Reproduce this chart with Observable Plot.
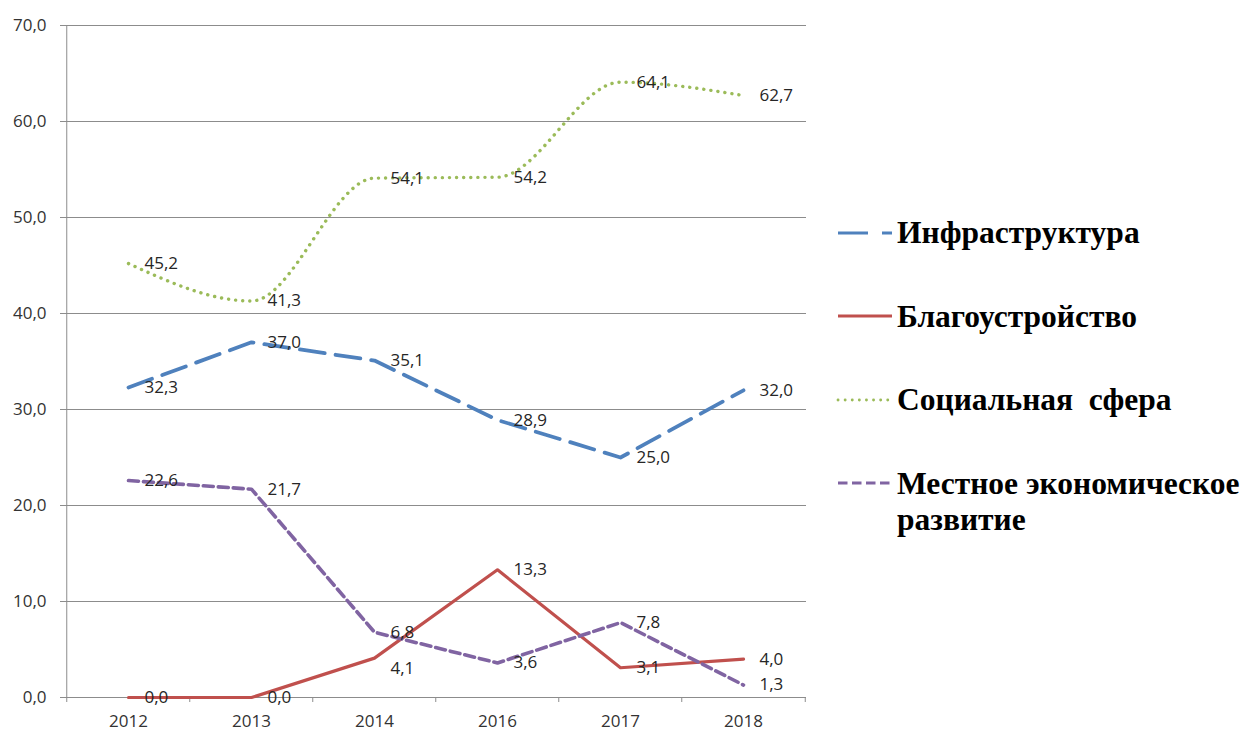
<!DOCTYPE html>
<html>
<head>
<meta charset="utf-8">
<script src="https://cdn.jsdelivr.net/npm/d3@7"></script>
<script src="https://cdn.jsdelivr.net/npm/@observablehq/plot@0.6"></script>
<style>
  html, body { margin: 0; padding: 0; background: #fff; }
  #wrap { position: relative; width: 1253px; height: 731px; overflow: hidden; }
  #legend { position: absolute; left: 0; top: 0; }
</style>
</head>
<body>
<div id="wrap"></div>
<script>
const years = ["2012", "2013", "2014", "2016", "2017", "2018"];
const infra  = [32.3, 37.0, 35.1, 28.9, 25.0, 32.0];
const blago  = [0.0, 0.0, 4.1, 13.3, 3.1, 4.0];
const social = [45.2, 41.3, 54.1, 54.2, 64.1, 62.7];
const local  = [22.6, 21.7, 6.8, 3.6, 7.8, 1.3];
const seriesNames = ["Инфраструктура", "Благоустройство", "Социальная  сфера", "Местное экономическое развитие"];
const yTicks = [0, 10, 20, 30, 40, 50, 60, 70];

const W = 1253, H = 731, mL = 65, mR = 447, mT = 25, mB = 34;
const step = (W - mL - mR) / years.length;
const grid = "#8c8c8c";
const fmt = d => d.toFixed(1).replace(".", ",");

const rows = (vals) => years.map((y, i) => ({year: y, value: vals[i], i}));
const dInfra = rows(infra), dBlago = rows(blago), dSocial = rows(social), dLocal = rows(local);

const colors = ["#4F81BD", "#C0504D", "#9BBB59", "#8064A2"];
const labelOpts = {x: "year", y: "value", text: d => fmt(d.value), dx: 16, textAnchor: "start", fill: "#262626"};

const chart = Plot.plot({
  width: W, height: H,
  marginLeft: mL, marginRight: mR, marginTop: mT, marginBottom: mB,
  style: {fontFamily: "Open Sans", fontSize: "17px", background: "white", color: "#333"},
  x: {type: "point", domain: years, padding: 0.5, label: null},
  y: {domain: [0, 70], label: null},
  marks: [
    Plot.ruleY(yTicks, {stroke: grid, strokeWidth: 1}),
    Plot.ruleX([years[0]], {dx: -step / 2, y1: 0, y2: 70, stroke: grid}),
    Plot.axisY({ticks: yTicks, tickSize: 5, tickPadding: 14, tickFormat: fmt, stroke: grid, fill: "#333", fontSize: 17, label: null}),
    Plot.axisX({ticks: years, tickSize: 5, dx: -step / 2, tickFormat: () => "", stroke: grid, label: null}),
    Plot.axisX({ticks: [years[years.length - 1]], tickSize: 5, dx: step / 2, tickFormat: () => "", stroke: grid, label: null}),
    Plot.axisX({ticks: years, tickSize: 0, tickPadding: 17, fill: "#333", fontSize: 17, label: null}),
    Plot.line(dInfra, {x: "year", y: "value", stroke: colors[0], strokeWidth: 3.8, strokeDasharray: "25,11", strokeLinejoin: "round"}),
    Plot.line(dBlago, {x: "year", y: "value", stroke: colors[1], strokeWidth: 3.2}),
    Plot.line(dSocial, {x: "year", y: "value", curve: "monotone-x", stroke: colors[2], strokeWidth: 3.4, strokeDasharray: "0.1,7", strokeLinecap: "round"}),
    Plot.line(dLocal, {x: "year", y: "value", stroke: colors[3], strokeWidth: 3.6, strokeDasharray: "10,5", strokeLinejoin: "round"}),
    Plot.text(dInfra, labelOpts),
    Plot.text(dBlago, {...labelOpts, filter: d => d.i !== 2}),
    Plot.text(dBlago, {...labelOpts, filter: d => d.i === 2, dy: 10}),
    Plot.text(dSocial, labelOpts),
    Plot.text(dLocal, labelOpts)
  ]
});
document.getElementById("wrap").appendChild(chart);

// Legend
const lg = d3.select("#wrap").append("svg").attr("id", "legend").attr("width", W).attr("height", H);
const swatches = [
  {dash: "30,14", w: 3.2, cap: "butt"},
  {dash: null, w: 3.2, cap: "butt"},
  {dash: "0.1,7", w: 2.8, cap: "round"},
  {dash: "9.5,4.5", w: 3.2, cap: "butt"}
];
const baselines = [243, 327, 410, 494];
const lineY = [233, 316, 400, 483];
seriesNames.forEach((name, i) => {
  const l = lg.append("line").attr("x1", 838).attr("x2", 892).attr("y1", lineY[i]).attr("y2", lineY[i])
    .attr("stroke", colors[i]).attr("stroke-width", swatches[i].w).attr("stroke-linecap", swatches[i].cap);
  if (swatches[i].dash) l.attr("stroke-dasharray", swatches[i].dash);
  const t = lg.append("text").attr("x", 897).attr("y", baselines[i])
    .attr("font-family", "Liberation Serif").attr("font-weight", "bold").attr("font-size", 31.5).attr("fill", "#000")
    .style("white-space", "pre");
  if (i === 3) {
    t.append("tspan").attr("x", 897).text("Местное экономическое");
    t.append("tspan").attr("x", 897).attr("dy", 36).text("развитие");
  } else {
    t.text(name);
  }
});
</script>
</body>
</html>
